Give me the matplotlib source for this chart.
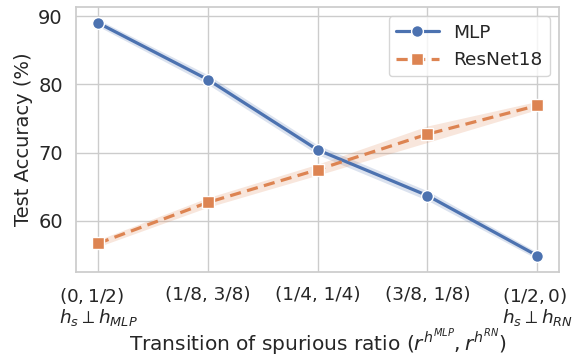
import matplotlib
matplotlib.use("Agg")
import matplotlib.pyplot as plt
import seaborn as sns
import numpy as np

sns.set_theme(style="whitegrid")
plt.rcParams['font.family'] = ['DejaVu Sans']

tick_labels = ["$(0, 1/2)$\n$h_s \\perp h_{MLP}$", "(1/8, 3/8)", "(1/4, 1/4)", "(3/8, 1/8)",
               "$(1/2, 0)$\n$h_s \\perp h_{RN}$"]
mlp = [89.0, 80.7, 70.4, 63.7, 54.9]
mlp_err = [0.5, 0.7, 0.7, 0.7, 0.5]
resnet = [56.7, 62.7, 67.5, 72.7, 76.9]
resnet_err = [0.5, 0.7, 0.8, 1.2, 0.6]

blue = "#4C72B0"
orange = "#DD8452"

fig, ax = plt.subplots(figsize=(5.76, 3.58), dpi=100)
x = np.arange(len(tick_labels))
mlp_a = np.array(mlp); mlp_e = np.array(mlp_err)
rn_a = np.array(resnet); rn_e = np.array(resnet_err)

ax.fill_between(x, mlp_a - mlp_e, mlp_a + mlp_e, color=blue, alpha=0.2, linewidth=0)
ax.fill_between(x, rn_a - rn_e, rn_a + rn_e, color=orange, alpha=0.2, linewidth=0)
ax.plot(x, mlp_a, color=blue, linewidth=2.3, marker='o', markersize=8.5,
        markeredgecolor='white', markeredgewidth=1, label="MLP")
ax.plot(x, rn_a, color=orange, linewidth=2.3, linestyle=(0, (3.5, 2)), marker='s', markersize=8.5,
        markeredgecolor='white', markeredgewidth=1, label="ResNet18")

ax.set_xlim(-0.2, 4.2)
ax.set_ylim(52.5, 91.3)
ax.set_yticks([60, 70, 80, 90])
ax.set_xticks(x)
ax.set_xticklabels(tick_labels, fontsize=13.3, linespacing=1.05, multialignment='left')
ax.tick_params(axis='x', pad=4)
ax.tick_params(axis='y', labelsize=14)
ax.set_ylabel("Test Accuracy (%)", fontsize=14)
ax.set_xlabel("Transition of spurious ratio ($r^{h^{MLP}}, r^{h^{RN}}$)", fontsize=14.5, labelpad=0)
ax.legend(loc="upper right", fontsize=13.3, handlelength=2.3)

fig.subplots_adjust(left=0.132, right=0.971, top=0.980, bottom=0.240)
fig.savefig("out.png", dpi=100)
